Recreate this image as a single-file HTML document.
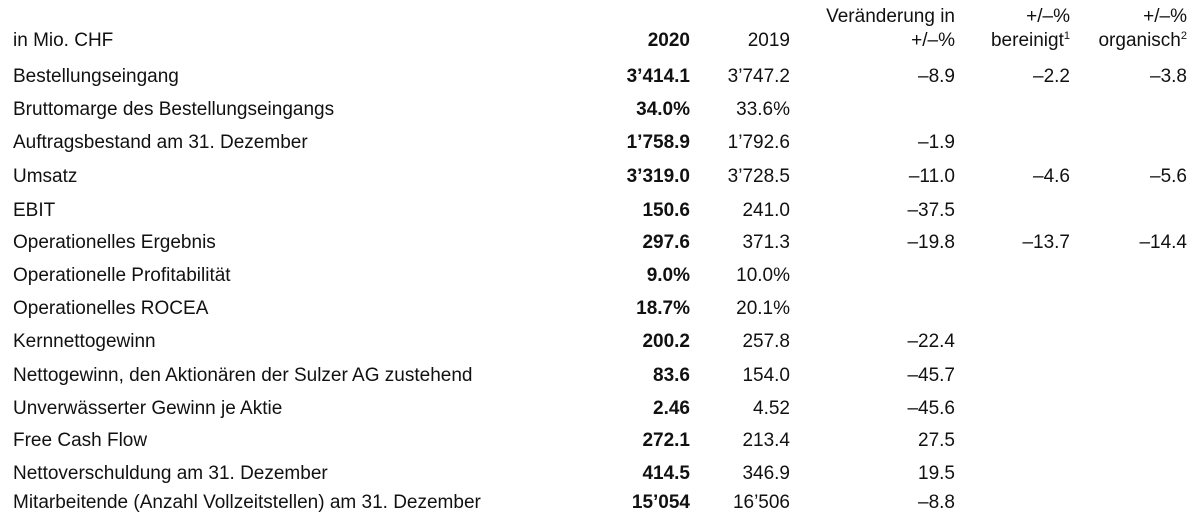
<!DOCTYPE html>
<html><head><meta charset="utf-8"><style>
body{margin:0;width:1200px;height:526px;background:#fff;font-family:"Liberation Sans",Arial,sans-serif;font-size:19px;color:#111;position:relative;overflow:hidden}
.r{position:absolute;left:0;width:1200px;height:22px;line-height:22px}
.c{position:absolute;top:0;white-space:nowrap}
.l{left:13px}
.a{right:510px;text-align:right;font-weight:bold}
.b{right:410px;text-align:right}
.v{right:245px;text-align:right}
.e{right:130px;text-align:right}
.o{right:13px;text-align:right}
sup{font-size:11px;vertical-align:7px;line-height:0}
</style></head><body>
<div class="r" style="top:6px">
<span class="c v">Veränderung in</span>
<span class="c e">+/–%</span>
<span class="c o">+/–%</span>
</div>
<div class="r" style="top:30px">
<span class="c l">in Mio. CHF</span>
<span class="c a">2020</span>
<span class="c b">2019</span>
<span class="c v">+/–%</span>
<span class="c e">bereinigt<sup>1</sup></span>
<span class="c o">organisch<sup>2</sup></span>
</div>
<div id="rows"></div>
<script>
const labels=["Bestellungseingang","Bruttomarge des Bestellungseingangs","Auftragsbestand am 31. Dezember","Umsatz","EBIT","Operationelles Ergebnis","Operationelle Profitabilität","Operationelles ROCEA","Kernnettogewinn","Nettogewinn, den Aktionären der Sulzer AG zustehend","Unverwässerter Gewinn je Aktie","Free Cash Flow","Nettoverschuldung am 31. Dezember","Mitarbeitende (Anzahl Vollzeitstellen) am 31. Dezember"];
const v2020=["3’414.1","34.0%","1’758.9","3’319.0","150.6","297.6","9.0%","18.7%","200.2","83.6","2.46","272.1","414.5","15’054"];
const v2019=["3’747.2","33.6%","1’792.6","3’728.5","241.0","371.3","10.0%","20.1%","257.8","154.0","4.52","213.4","346.9","16’506"];
const chg=["–8.9","","–1.9","–11.0","–37.5","–19.8","","","–22.4","–45.7","–45.6","27.5","19.5","–8.8"];
const adj=["–2.2","","","–4.6","","–13.7","","","","","","","",""];
const org=["–3.8","","","–5.6","","–14.4","","","","","","","",""];
const tops=[66,99,132,166,200,232,265,298,331,365,398,430,463,492];
const host=document.getElementById('rows');
labels.forEach((lab,i)=>{
  const row=document.createElement('div');
  row.className='r';row.style.top=tops[i]+'px';
  
  
  const cells=[['l',lab],['a',v2020[i]],['b',v2019[i]],['v',chg[i]],['e',adj[i]],['o',org[i]]];
  cells.forEach(([cls,t])=>{
    if(!t)return;
    const s=document.createElement('span');
    s.className='c '+cls;s.textContent=t;
    
    
    row.appendChild(s);
  });
  host.appendChild(row);
});
</script>
</body></html>
